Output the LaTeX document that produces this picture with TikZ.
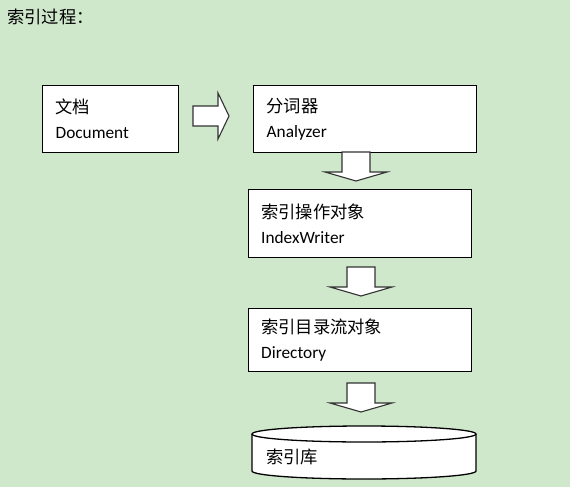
\documentclass[tikz,border=0pt]{standalone}
\usepackage{fontspec}
\setmainfont{Carlito}
\newfontfamily\cjk{Noto Sans CJK SC}
\usepackage{tikz}
\definecolor{bgreen}{RGB}{207,231,203}
\definecolor{arrowgray}{RGB}{50,50,50}

\begin{document}
\begin{tikzpicture}[x=1pt,y=1pt,
	procbox/.style={draw=black, line width=1.3pt, fill=white, anchor=north west, align=left, inner xsep=13pt, inner ysep=0pt, font=\fontsize{17.3}{25}\selectfont},
	blockarrow/.style={draw=arrowgray, line width=1.1pt, fill=white, line join=miter}]
	% Background %
	\fill [bgreen] (0,0) rectangle (570,-487);
	\useasboundingbox (0,0) rectangle (570,-487);
	% Title %
	\node (title) [anchor=west, inner sep=0pt, font=\fontsize{17.3}{20}\selectfont] at (7,-17) {\cjk 索引过程：};
	% Boxes %
	\node (document) [procbox, text width=110pt, minimum height=67pt] at (42,-85) {{\cjk 文档}\\Document};
	\node (analyzer) [procbox, text width=197pt, minimum height=67pt] at (253,-85) {{\cjk 分词器}\\Analyzer};
	\node (indexwriter) [procbox, text width=197pt, minimum height=68pt] at (247.5,-189) {{\cjk 索引操作对象}\\IndexWriter};
	\node (directory) [procbox, text width=197pt, minimum height=63pt] at (247.5,-308) {{\cjk 索引目录流对象}\\Directory};
	% Right Arrow %
	\draw [blockarrow] (193,-106) -- (218,-106) -- (218,-93) -- (229,-116) -- (218,-139) -- (218,-126) -- (193,-126) -- cycle;
	% Down Arrows %
	\foreach \cx/\ty in {356/152, 361/267, 361/383}
		{\draw [blockarrow] (\cx-14,-\ty) -- ++(0,-20) -- ++(-17,0) -- ++(31,-9) -- ++(31,9) -- ++(-17,0) -- ++(0,20) -- cycle;}
	% Index Store %
	\draw [line width=1.3pt, fill=white] (252,-434) -- (252,-471) arc (180:360:112 and 8) -- (476,-434) arc (0:180:112 and 8) -- cycle;
	\draw [line width=1.3pt] (252,-434) arc (180:360:112 and 8);
	\node (indexstore) [anchor=west, inner sep=0pt, font=\fontsize{17.3}{20}\selectfont] at (266,-457) {\cjk 索引库};
\end{tikzpicture}
\end{document}
